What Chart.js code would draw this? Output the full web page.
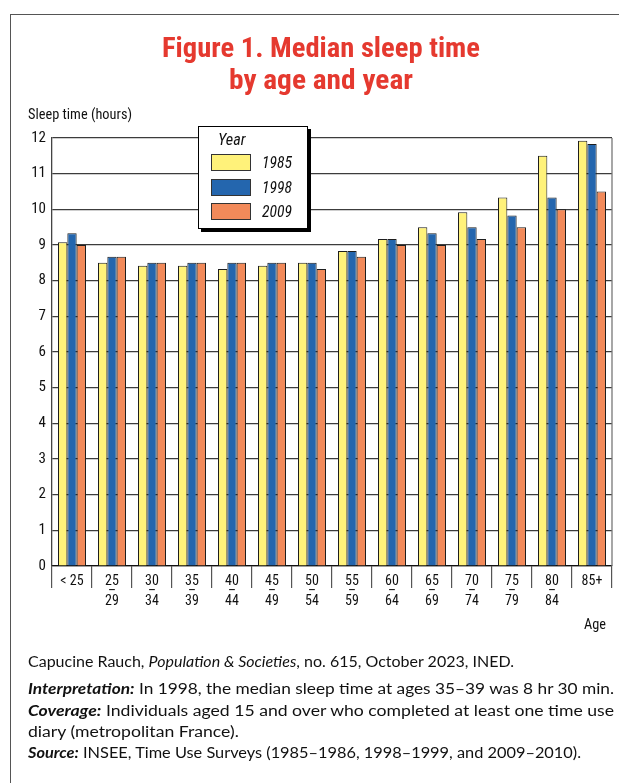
<!DOCTYPE html>
<html>
<head>
<meta charset="utf-8">
<script src="https://cdn.jsdelivr.net/npm/chart.js@4.4.1/dist/chart.umd.min.js"></script>
<style>
html,body{margin:0;padding:0;background:#fff;}
#page{position:relative;width:619px;height:783px;overflow:hidden;background:#fff;}
#frame{position:absolute;left:10px;top:14px;width:700px;height:800px;border-top:1.5px solid #555;border-left:1.5px solid #555;}
#chart{position:absolute;left:0;top:0;}
.fit{position:absolute;white-space:nowrap;display:inline-block;}
.cond{font-family:'Liberation Sans Narrow','Roboto Condensed','DejaVu Sans Condensed','Liberation Sans',sans-serif;}
.title{color:#e5392f;font-weight:bold;font-size:27px;line-height:32px;}
.note{font-family:Lato,'Open Sans',sans-serif;font-size:15.5px;line-height:20px;color:#111;}
#legend{position:absolute;left:198px;top:126px;width:110px;height:103px;box-sizing:border-box;border:1.5px solid #000;box-shadow:3px 3px 0 #000;background:#fff;}
.sw{position:absolute;left:12px;width:40px;height:17px;box-sizing:border-box;border:1px solid #333;}
.lg{font-style:italic;font-size:17px;line-height:20px;color:#111;}
</style>
</head>
<body>
<div id="page">
  <div id="frame"></div>
  <canvas id="chart" width="619" height="783"></canvas>
  <div class="fit cond title" data-w="318" data-anchor="center" style="left:321px;top:32px;">Figure 1. Median sleep time</div>
  <div class="fit cond title" data-w="184" data-anchor="center" style="left:321px;top:64px;">by age and year</div>
  <div class="fit cond" data-w="104" style="left:28px;top:105px;font-size:14.5px;line-height:20px;color:#111;">Sleep time (hours)</div>
  <div class="fit cond" data-w="22" style="left:584px;top:615px;font-size:14.5px;line-height:20px;color:#111;">Age</div>
  <div id="legend"></div>
  <div class="fit note" data-w="486" style="left:28px;top:651px;">Capucine Rauch, <i>Population &amp; Societies</i>, no. 615, October 2023, INED.</div>
  <div class="fit note" data-w="586" style="left:28px;top:678px;"><b><i>Interpretation:</i></b> In 1998, the median sleep time at ages 35–39 was 8 hr 30 min.</div>
  <div class="fit note" data-w="586" style="left:28px;top:700px;"><b><i>Coverage:</i></b> Individuals aged 15 and over who completed at least one time use</div>
  <div class="fit note" data-same="prev" style="left:28px;top:721px;">diary (metropolitan France).</div>
  <div class="fit note" data-w="553" style="left:28px;top:742px;"><b><i>Source:</i></b> INSEE, Time Use Surveys (1985–1986, 1998–1999, and 2009–2010).</div>
</div>
<script>
// ---- data ----
const ageGroups = [['< 25'], ['25','–','29'], ['30','–','34'], ['35','–','39'], ['40','–','44'], ['45','–','49'], ['50','–','54'], ['55','–','59'], ['60','–','64'], ['65','–','69'], ['70','–','74'], ['75','–','79'], ['80','–','84'], ['85+']];
const years = ['1985', '1998', '2009'];
const sleep1985 = [9.08, 8.5, 8.42, 8.42, 8.33, 8.42, 8.5, 8.83, 9.17, 9.5, 9.92, 10.33, 11.5, 11.92];
const sleep1998 = [9.33, 8.67, 8.5, 8.5, 8.5, 8.5, 8.5, 8.83, 9.17, 9.33, 9.5, 9.83, 10.33, 11.83];
const sleep2009 = [9.0, 8.67, 8.5, 8.5, 8.5, 8.5, 8.33, 8.67, 9.0, 9.0, 9.17, 9.5, 10.0, 10.5];
const yMin = 0, yMax = 12, yStep = 1;

// ---- styles ----
const seriesColors = ['#fff27a', '#2466ae', '#f28a5a'];
const COND = "'Liberation Sans Narrow','Roboto Condensed','DejaVu Sans Condensed','Liberation Sans',sans-serif";

const rightEdge = {
  id: 'rightEdge',
  afterDraw(chart) {
    const a = chart.chartArea, c = chart.ctx;
    c.save();
    c.strokeStyle = '#777';
    c.lineWidth = 1.3;
    c.beginPath();
    c.moveTo(a.right, a.top);
    c.lineTo(a.right, a.bottom);
    c.stroke();
    c.restore();
  }
};

const seriesData = [sleep1985, sleep1998, sleep2009];
new Chart(document.getElementById('chart'), {
  type: 'bar',
  data: {
    labels: ageGroups,
    datasets: years.map((y, i) => ({
      label: y,
      data: seriesData[i],
      backgroundColor: seriesColors[i]
    }))
  },
  options: {
    responsive: false,
    animation: false,
    devicePixelRatio: 1,
    layout: { padding: { left: 0, right: 7, top: 138, bottom: 157 } },
    plugins: { legend: { display: false }, title: { display: false }, tooltip: { enabled: false } },
    datasets: { bar: { barPercentage: 1, categoryPercentage: 0.7, borderWidth: 1, borderColor: '#1e1e1e' } },
    scales: {
      x: {
        grid: { display: true, drawOnChartArea: false, drawTicks: true, tickLength: 22, color: '#555', lineWidth: 1.2, offset: true },
        border: { display: true, color: '#111', width: 1.3 },
        ticks: { autoSkip: false, maxRotation: 0, minRotation: 0, padding: -11.7, color: '#111', font: { family: COND, size: 14, lineHeight: 0.72 } },
        afterFit: s => { s.height = 60; }
      },
      y: {
        min: yMin, max: yMax,
        ticks: { stepSize: yStep, padding: 6, color: '#111', font: { family: COND, size: 15 } },
        grid: { color: '#3c3c3c', lineWidth: 1.2, drawTicks: false },
        border: { display: true, color: '#444', width: 1.3 },
        afterFit: s => { s.width = 52; }
      }
    }
  },
  plugins: [rightEdge]
});

// ---- legend (HTML, built from the series) ----
const lg = document.getElementById('legend');
const head = document.createElement('div');
head.className = 'fit cond lg';
head.textContent = 'Year';
head.dataset.w = '27.5';
head.style.left = '18.5px'; head.style.top = '2.5px'; head.style.fontSize = '16px';
lg.appendChild(head);
const swTops = [26.5, 51.5, 75.5];
years.forEach((y, i) => {
  const sw = document.createElement('div');
  sw.className = 'sw';
  sw.style.top = swTops[i] + 'px';
  sw.style.background = seriesColors[i];
  lg.appendChild(sw);
  const t = document.createElement('div');
  t.className = 'fit cond lg';
  t.textContent = y;
  t.dataset.w = '30';
  t.style.left = '62.5px';
  t.style.top = (swTops[i] - 1.5) + 'px';
  lg.appendChild(t);
});

// ---- fit text widths ----
function fitAll() {
  let lastScale = 1;
  document.querySelectorAll('.fit').forEach(el => {
    el.style.transform = '';
    const w = el.getBoundingClientRect().width;
    let s;
    if (el.dataset.same === 'prev') {
      s = lastScale;
    } else {
      const target = parseFloat(el.dataset.w);
      if (!w || !target) return;
      s = target / w;
    }
    lastScale = s;
    if (el.dataset.anchor === 'center') {
      el.style.transformOrigin = 'center center';
      el.style.transform = 'translateX(-50%) scaleX(' + s + ')';
    } else {
      el.style.transformOrigin = 'left center';
      el.style.transform = 'scaleX(' + s + ')';
    }
  });
}
fitAll();
</script>
</body>
</html>
